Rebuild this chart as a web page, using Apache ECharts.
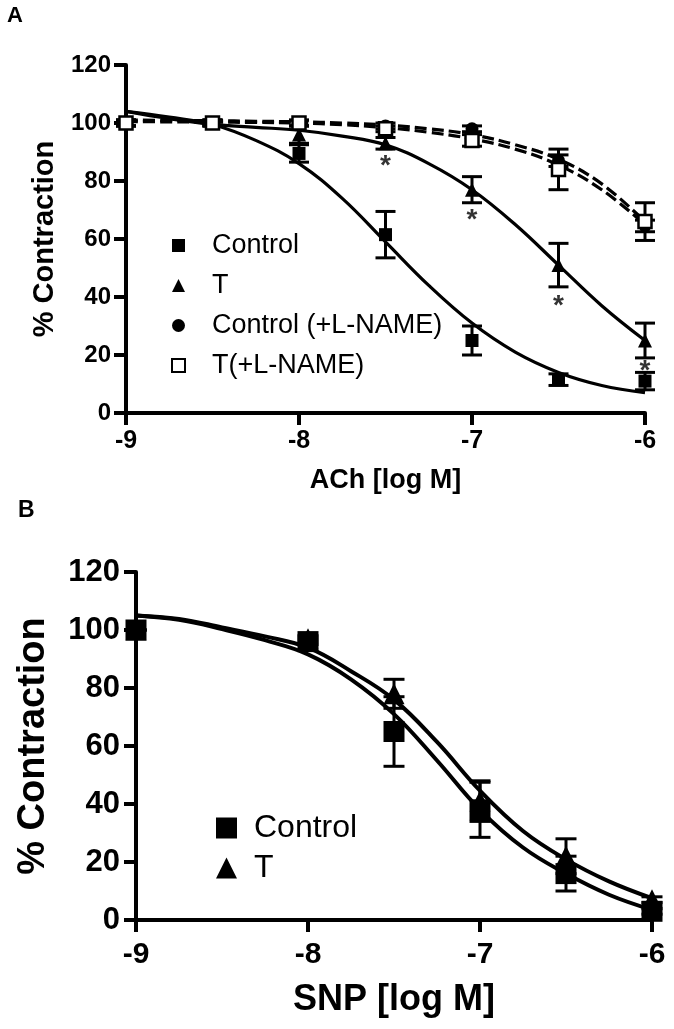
<!DOCTYPE html>
<html>
<head>
<meta charset="utf-8">
<script src="https://cdn.jsdelivr.net/npm/echarts@6/dist/echarts.min.js"></script>
<style>html,body{margin:0;padding:0;background:#fff}#c{width:674px;height:1029px}</style>
</head>
<body>
<div id="c"></div>
<script>
// ---------- Panel A (ACh) ----------
const xA = [-9, -8.5, -8, -7.5, -7, -6.5, -6];
const ctrlA = [100, 100, 89.5, 61.5, 25, 11.5, 11];
const ctrlAErr = [1, 1, 3, 8, 5, 2, 3];
const tA = [100, 100, 96, 93, 77, 51, 25];
const tAErr = [1, 1, 3, 2, 4.5, 7.5, 6];
const ctrlLA = [100, 100, 100, 99, 98, 87, 64.5];
const ctrlLAErr = [1, 1, 1, 1, 1, 2, 2];
const tLA = [100, 100, 100, 98, 94, 84, 66];
const tLAErr = [1, 1, 1, 1, 2, 7, 6.5];
// fitted curves
const fitX = [-9, -8.75, -8.5, -8.25, -8, -7.75, -7.5, -7.25, -7, -6.75, -6.5, -6.25, -6];
const ctrlFitA = [104, 102, 99.5, 94, 86, 74, 59, 44, 31, 21, 14, 9.5, 7];
const tFitA = [104, 101.5, 99.5, 98.5, 97.5, 95.5, 92.5, 86, 77, 65, 51, 37, 25];
const ctrlLFitA = [101, 100.9, 100.8, 100.6, 100.4, 100, 99.3, 98, 96, 92.5, 87.5, 79, 66];
const tLFitA = [100.5, 100.4, 100.3, 100.2, 100, 99.4, 98.4, 96.8, 94.5, 91, 85.5, 77, 65];
// significance marks
const sigX = [-7.5, -7, -6.5, -6];
const sigY = [87, 68.5, 39, 16.5];

// ---------- Panel B (SNP) ----------
const xB = [-9, -8, -7.5, -7, -6.5, -6];
const ctrlB = [100, 96, 65, 38, 16, 3];
const ctrlBErr = [0, 1, 12, 9.5, 6, 1];
const tB = [100, 97, 78, 41, 22, 7];
const tBErr = [0, 1, 5, 7, 6, 1];
const ctrlFitB = [105, 103.5, 100.3, 96.5, 91.6, 83, 71, 55, 38, 25, 16, 8.7, 3.5];
const tFitB = [105, 103.8, 100.9, 97.8, 93.9, 85.8, 76, 61.4, 44.6, 30.7, 20.9, 13.3, 7.5];

const yTicks = [0, 20, 40, 60, 80, 100, 120];
const xTicks = [-9, -8, -7, -6];

const FONT = "Arial, 'Liberation Sans', sans-serif";
const zip = (xs, ys) => xs.map((x, i) => [x, ys[i]]);

function errSeries(idx, xs, ys, es, cap) {
  return {
    type: 'custom', xAxisIndex: idx, yAxisIndex: idx, z: 3, clip: false, silent: true,
    data: xs.map((x, i) => [x, ys[i] - es[i], ys[i] + es[i]]),
    renderItem: function (params, api) {
      const lo = api.coord([api.value(0), api.value(1)]);
      const hi = api.coord([api.value(0), api.value(2)]);
      const st = { stroke: '#000', lineWidth: 3 };
      const h = cap / 2;
      return { type: 'group', children: [
        { type: 'line', shape: { x1: lo[0], y1: lo[1], x2: hi[0], y2: hi[1] }, style: st },
        { type: 'line', shape: { x1: hi[0] - h, y1: hi[1], x2: hi[0] + h, y2: hi[1] }, style: st },
        { type: 'line', shape: { x1: lo[0] - h, y1: lo[1], x2: lo[0] + h, y2: lo[1] }, style: st }
      ] };
    }
  };
}
function curve(idx, ys, dashed) {
  return {
    type: 'line', xAxisIndex: idx, yAxisIndex: idx, data: zip(fitX, ys), smooth: 0.4,
    showSymbol: false, symbol: 'none', z: 2, clip: false, silent: true,
    lineStyle: { color: '#000', width: idx === 0 ? 3.2 : 4, type: dashed ? [12, 5] : 'solid', opacity: 1 }
  };
}
function pts(idx, name, xs, ys, symbol, size, hollow) {
  return {
    type: 'scatter', name: name, xAxisIndex: idx, yAxisIndex: idx, data: zip(xs, ys),
    symbol: symbol, symbolSize: size, z: 5, clip: false,
    itemStyle: hollow ? { color: '#fff', borderColor: '#000', borderWidth: 2.5, opacity: 1 }
                      : { color: '#000', opacity: 1 },
    emphasis: { disabled: true }
  };
}
function xAx(idx, name, fs, nfs, gap, margin) {
  return {
    type: 'value', gridIndex: idx, min: -9, max: -6, interval: 1,
    name: name, nameLocation: 'middle', nameGap: gap,
    nameTextStyle: { fontFamily: FONT, fontWeight: 'bold', fontSize: nfs, color: '#000' },
    axisLine: { onZero: false, lineStyle: { color: '#000', width: 4 } },
    axisTick: { length: 12, lineStyle: { color: '#000', width: 4 } },
    axisLabel: { fontFamily: FONT, fontWeight: 'bold', fontSize: fs, color: '#000', margin: margin,
      formatter: v => xTicks.includes(v) ? String(v) : '' },
    splitLine: { show: false }
  };
}
function yAx(idx, fs, nfs, gap, margin) {
  return {
    type: 'value', gridIndex: idx, min: 0, max: 120, interval: 20,
    name: '% Contraction', nameLocation: 'middle', nameGap: gap, nameRotate: 90,
    nameTextStyle: { fontFamily: FONT, fontWeight: 'bold', fontSize: nfs, color: '#000' },
    axisLine: { onZero: false, lineStyle: { color: '#000', width: 4 } },
    axisTick: { length: 12, lineStyle: { color: '#000', width: 4 } },
    axisLabel: { fontFamily: FONT, fontWeight: 'bold', fontSize: fs, color: '#000', margin: margin,
      formatter: v => yTicks.includes(v) ? String(v) : '' },
    splitLine: { show: false }
  };
}

const chart = echarts.init(document.getElementById('c'), null, { renderer: 'canvas' });
chart.setOption({
  backgroundColor: '#fff',
  animation: false,
  title: [
    { text: 'A', left: 7, top: 5, padding: 0, textStyle: { fontFamily: FONT, fontWeight: 'bold', fontSize: 22, color: '#000' } },
    { text: 'B', left: 18, top: 499, padding: 0, textStyle: { fontFamily: FONT, fontWeight: 'bold', fontSize: 23, color: '#000' } }
  ],
  grid: [
    { left: 126, top: 65, width: 519, height: 348 },
    { left: 136, top: 572, width: 516, height: 348 }
  ],
  xAxis: [xAx(0, 'ACh [log M]', 25, 27, 54, 16), xAx(1, 'SNP [log M]', 30, 36, 62, 20)],
  yAxis: [yAx(0, 24, 29, 67, 15), yAx(1, 31, 38, 83, 16)],
  legend: [
    { orient: 'vertical', left: 171, top: 232, itemGap: 13, itemWidth: 13, itemHeight: 13,
      padding: 0, selectedMode: false,
      textStyle: { fontFamily: FONT, fontSize: 27, color: '#000', padding: [0, 0, 0, 22] },
      data: ['Control', 'T', 'Control (+L-NAME)', 'T(+L-NAME)'] },
    { orient: 'vertical', left: 216, top: 812, itemGap: 8, itemWidth: 21, itemHeight: 21,
      padding: 0, selectedMode: false,
      textStyle: { fontFamily: FONT, fontSize: 32, color: '#000', padding: [0, 0, 0, 12] },
      data: ['Control ', 'T '] }
  ],
  series: [
    curve(0, ctrlFitA, false),
    curve(0, tFitA, false),
    curve(0, ctrlLFitA, true),
    curve(0, tLFitA, true),
    errSeries(0, xA, ctrlA, ctrlAErr, 20),
    errSeries(0, xA, tA, tAErr, 20),
    errSeries(0, xA, ctrlLA, ctrlLAErr, 20),
    errSeries(0, xA, tLA, tLAErr, 20),
    pts(0, 'Control', xA, ctrlA, 'rect', 13, false),
    pts(0, 'T', xA, tA, 'triangle', 14, false),
    pts(0, 'Control (+L-NAME)', xA, ctrlLA, 'circle', 13, false),
    pts(0, 'T(+L-NAME)', xA, tLA, 'rect', 13, true),
    {
      type: 'scatter', xAxisIndex: 0, yAxisIndex: 0, data: zip(sigX, sigY), symbolSize: 0, z: 6, silent: true,
      label: { show: true, position: 'inside', formatter: '*', fontFamily: FONT, fontWeight: 'bold',
        fontSize: 28, color: '#000', offset: [0, 6] }
    },
    {
      type: 'line', xAxisIndex: 1, yAxisIndex: 1, data: zip(fitX, ctrlFitB), smooth: 0.4, showSymbol: false,
      symbol: 'none', z: 2, clip: false, silent: true, lineStyle: { color: '#000', width: 4 }
    },
    {
      type: 'line', xAxisIndex: 1, yAxisIndex: 1, data: zip(fitX, tFitB), smooth: 0.4, showSymbol: false,
      symbol: 'none', z: 2, clip: false, silent: true, lineStyle: { color: '#000', width: 4 }
    },
    errSeries(1, xB, ctrlB, ctrlBErr, 21),
    errSeries(1, xB, tB, tBErr, 21),
    pts(1, 'Control ', xB, ctrlB, 'rect', 21, false),
    pts(1, 'T ', xB, tB, 'triangle', 21, false)
  ]
});
</script>
</body>
</html>
